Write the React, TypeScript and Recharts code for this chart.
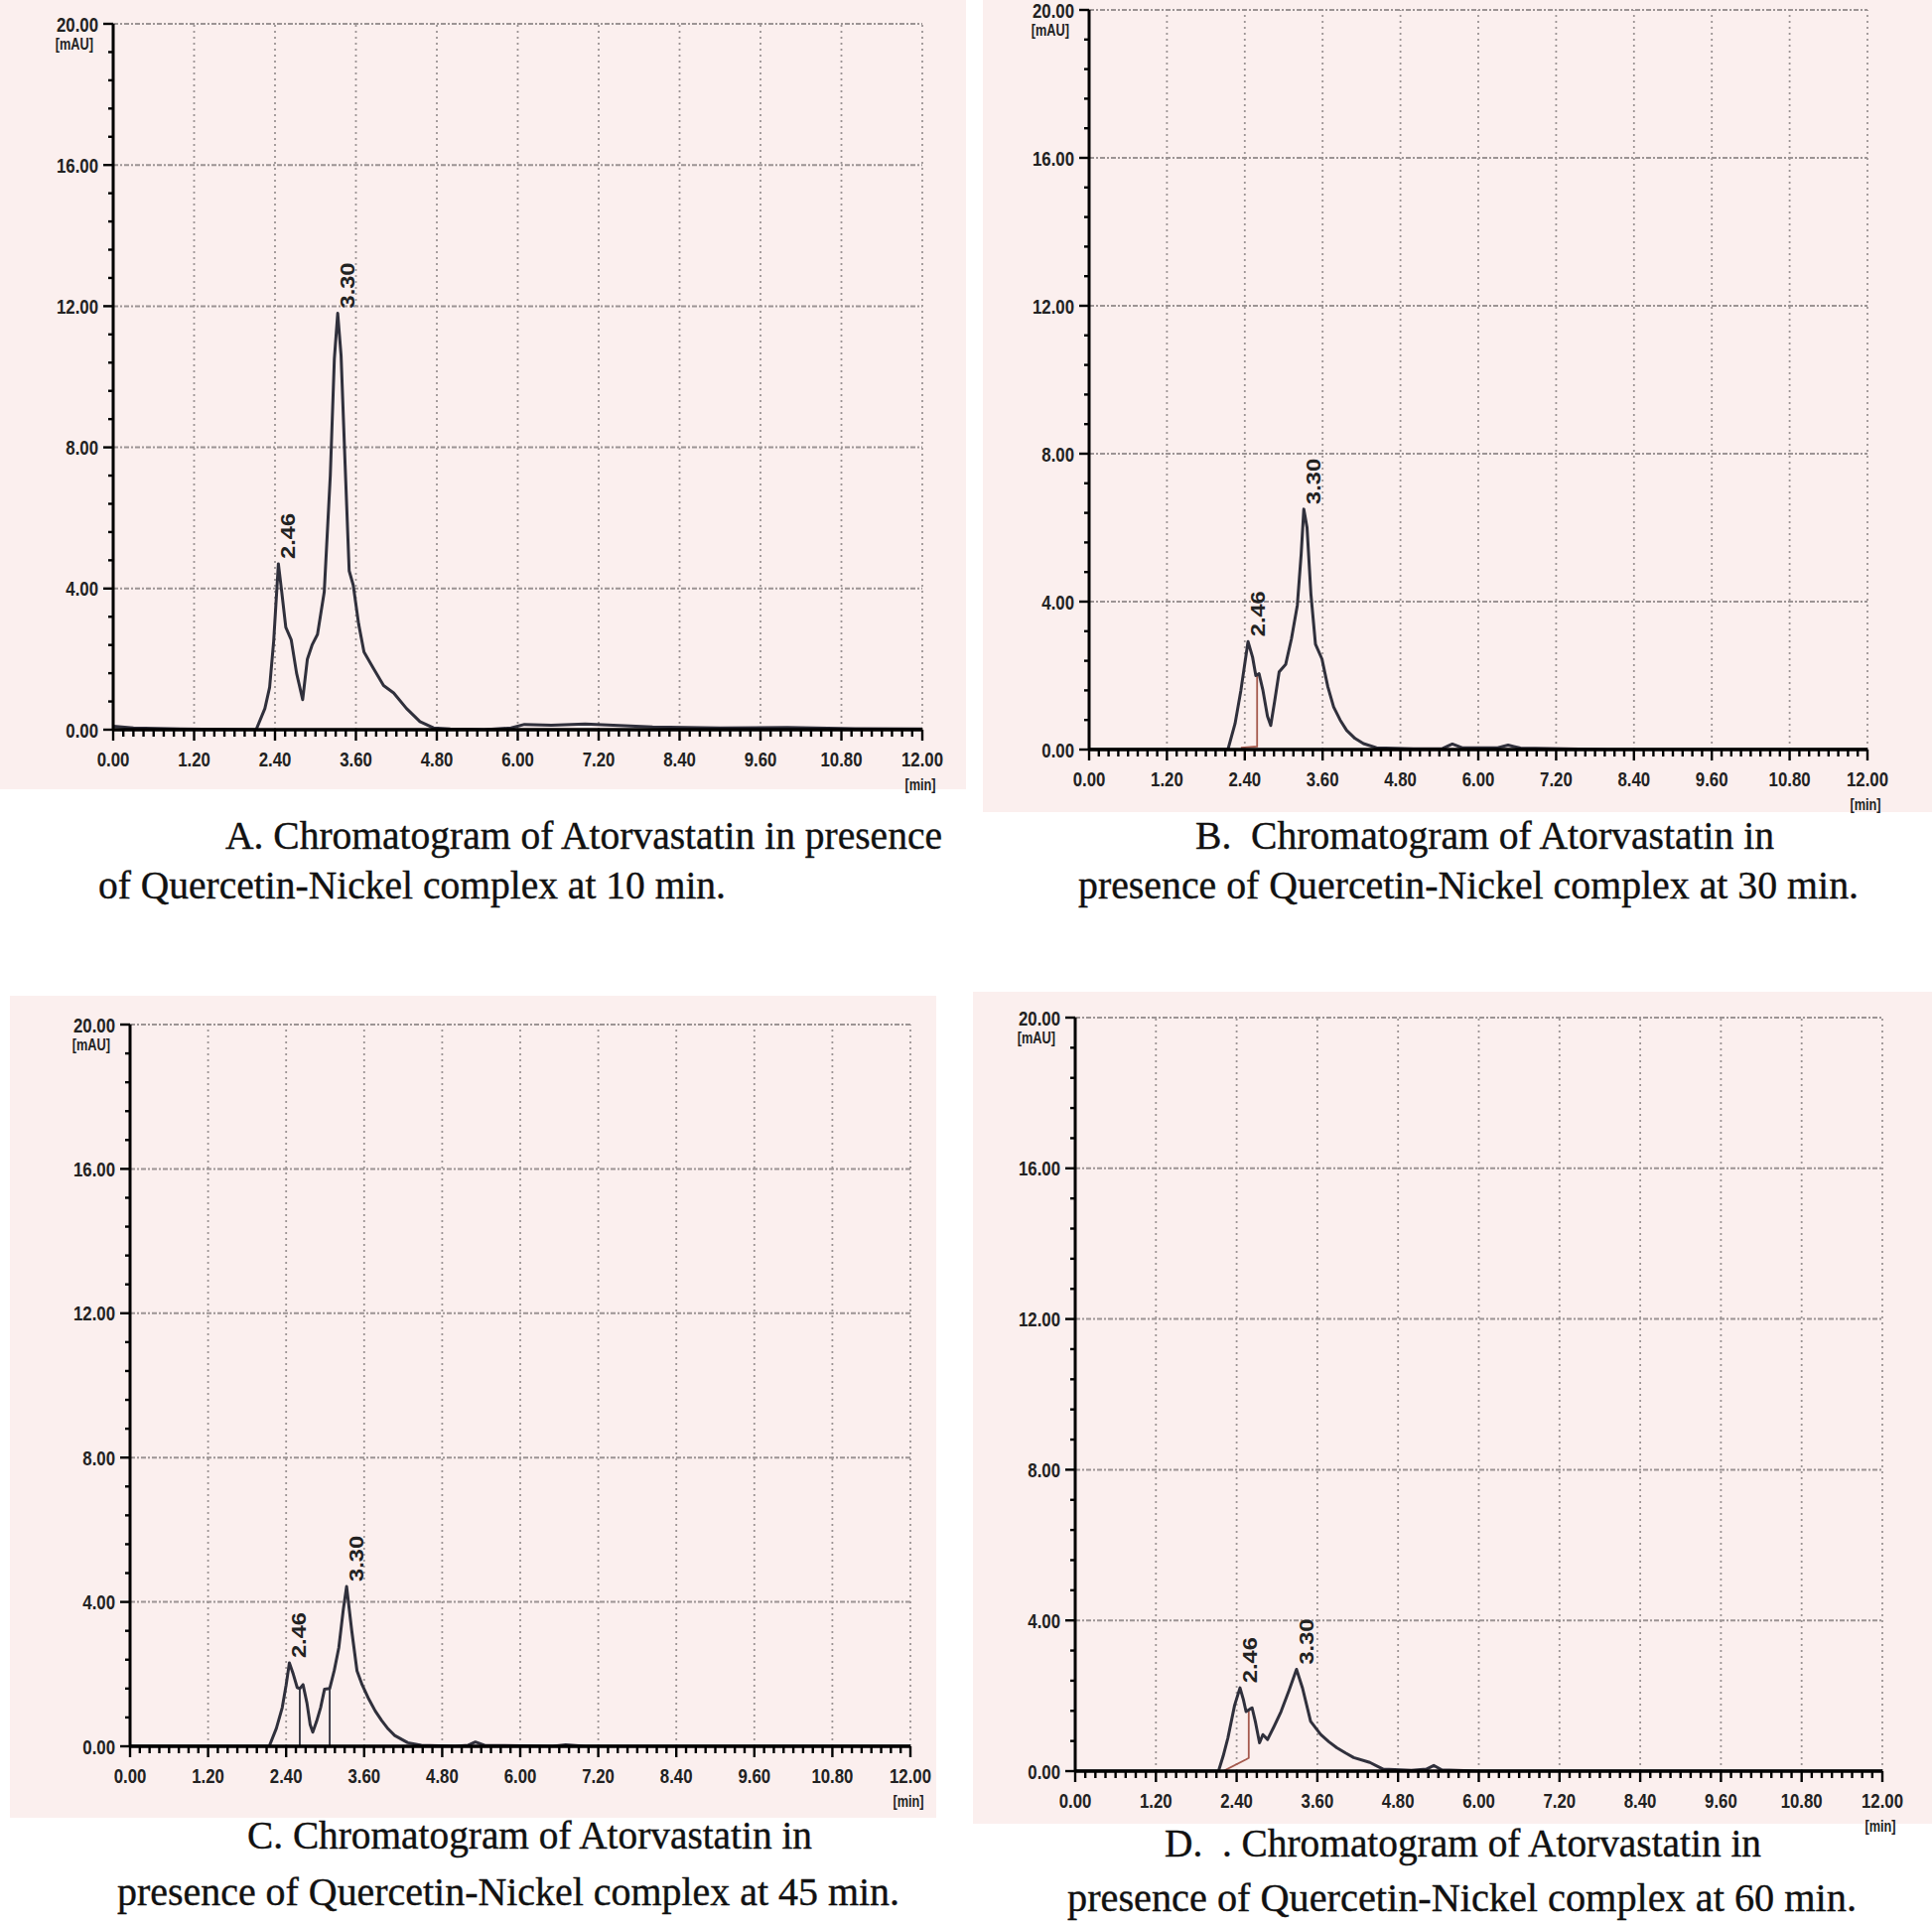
import React from "react";
import { ComposedChart, Line, XAxis, YAxis, ReferenceLine, Scatter } from "recharts";

// axis ticks (min / mAU)
const xMajor = [0, 1.2, 2.4, 3.6, 4.8, 6, 7.2, 8.4, 9.6, 10.8, 12];
const yMajor = [0, 4, 8, 12, 16, 20];
const xMinor = Array.from({ length: 81 }, (_, i) => +(i * 0.15).toFixed(2));
const yMinor = Array.from({ length: 26 }, (_, i) => +(i * 0.8).toFixed(2));

const peakNames = ["2.46", "3.30"];

// A - 10 min
const timeA = [0, 0.3, 1.0, 2.0, 2.12, 2.25, 2.32, 2.38, 2.45, 2.5, 2.56, 2.64, 2.72, 2.81, 2.88, 2.95, 3.03, 3.13, 3.22, 3.28, 3.33, 3.38, 3.44, 3.5, 3.56, 3.64, 3.72, 3.86, 4.01, 4.16, 4.35, 4.55, 4.75, 5.0, 5.5, 5.9, 6.1, 6.5, 7.0, 7.5, 8.0, 9.0, 10.0, 11.0, 12.0];
const absA = [0.1, 0.05, 0.02, 0.0, 0.0, 0.6, 1.2, 2.5, 4.7, 3.9, 2.9, 2.55, 1.6, 0.85, 2.0, 2.4, 2.7, 3.9, 7.2, 10.5, 11.8, 10.6, 7.5, 4.5, 4.1, 3.0, 2.2, 1.74, 1.25, 1.04, 0.6, 0.23, 0.05, 0.02, 0.0, 0.05, 0.15, 0.13, 0.16, 0.12, 0.08, 0.05, 0.06, 0.03, 0.02];
const peakTimeA = [2.45, 3.33];
const peakAbsA = [4.7, 11.8];

// B - 30 min
const timeB = [0, 2.14, 2.25, 2.34, 2.45, 2.52, 2.57, 2.62, 2.68, 2.75, 2.8, 2.86, 2.93, 3.03, 3.12, 3.21, 3.27, 3.31, 3.36, 3.42, 3.49, 3.59, 3.68, 3.77, 3.87, 3.97, 4.1, 4.23, 4.43, 5.0, 5.45, 5.6, 5.75, 6.3, 6.46, 6.65, 8.0, 12.0];
const absB = [0, 0, 0.7, 1.6, 2.92, 2.5, 2.0, 2.05, 1.6, 0.9, 0.65, 1.3, 2.1, 2.3, 3.0, 3.9, 5.3, 6.5, 6.0, 4.2, 2.85, 2.45, 1.7, 1.15, 0.8, 0.52, 0.3, 0.16, 0.05, 0.02, 0.03, 0.15, 0.05, 0.05, 0.12, 0.04, 0, 0];
const peakTimeB = [2.45, 3.31];
const peakAbsB = [2.92, 6.5];
const cutTimeB = [2.34, 2.59, 2.59];
const cutAbsB = [0.05, 0.08, 2.0];

// C - 45 min
const timeC = [0, 2.14, 2.25, 2.34, 2.4, 2.45, 2.51, 2.57, 2.61, 2.66, 2.72, 2.77, 2.81, 2.87, 2.93, 2.99, 3.07, 3.14, 3.21, 3.28, 3.33, 3.41, 3.49, 3.57, 3.66, 3.77, 3.87, 3.97, 4.07, 4.27, 4.48, 5.0, 5.2, 5.31, 5.45, 6.5, 6.7, 7.0, 12.0];
const absC = [0, 0, 0.5, 1.07, 1.7, 2.31, 2.0, 1.63, 1.6, 1.71, 1.2, 0.6, 0.39, 0.7, 1.07, 1.58, 1.6, 2.1, 2.73, 3.8, 4.43, 3.19, 2.09, 1.7, 1.35, 0.98, 0.71, 0.48, 0.3, 0.1, 0.03, 0, 0.03, 0.12, 0.03, 0, 0.04, 0, 0];
const peakTimeC = [2.45, 3.33];
const peakAbsC = [2.31, 4.43];
const cut1TimeC = [2.61, 2.61];
const cut1AbsC = [0, 1.62];
const cut2TimeC = [3.07, 3.07];
const cut2AbsC = [0, 1.6];

// D - 60 min
const timeD = [0, 2.13, 2.2, 2.27, 2.37, 2.45, 2.5, 2.54, 2.6, 2.63, 2.68, 2.74, 2.79, 2.86, 2.96, 3.06, 3.18, 3.29, 3.38, 3.5, 3.65, 3.77, 3.89, 4.02, 4.14, 4.38, 4.58, 5.0, 5.22, 5.33, 5.45, 6.0, 12.0];
const absD = [0, 0, 0.4, 0.88, 1.75, 2.21, 1.9, 1.58, 1.65, 1.68, 1.3, 0.75, 0.97, 0.84, 1.2, 1.58, 2.15, 2.7, 2.2, 1.32, 0.97, 0.78, 0.62, 0.48, 0.36, 0.23, 0.05, 0.02, 0.05, 0.15, 0.03, 0, 0];
const peakTimeD = [2.45, 3.29];
const peakAbsD = [2.21, 2.7];
const cutTimeD = [2.2, 2.54, 2.58, 2.58];
const cutAbsD = [0, 0.31, 0.35, 1.6];

const TRACE = "#30303c";
const CUT = "#a55a4e";
const PINK = "#fbefee";
const GRID = "#9c9494";
const SANS = "Liberation Sans, Arial, sans-serif";

const zip = (t: number[], v: number[]) => t.map((x, i) => ({ t: x, v: v[i] }));
const isMult = (v: number, step: number) => Math.abs(v / step - Math.round(v / step)) < 1e-6;

function XTick(props: any) {
  const { x, y, payload } = props;
  const v = payload.value;
  const major = isMult(v, 1.2);
  return (
    <g>
      <line x1={x} x2={x} y1={y} y2={y + (major ? 11 : 7)} stroke="#000" strokeWidth={2.4} />
      {major && (
        <text transform={`translate(${x},${y + 37}) scale(0.8,1)`} textAnchor="middle" fontSize={21}
          fontWeight="bold" fontFamily={SANS} fill="#222">
          {v.toFixed(2)}
        </text>
      )}
      {major && v === 12 && (
        <text transform={`translate(${x - 2},${y + 61}) scale(0.75,1)`} textAnchor="middle" fontSize={17}
          fontWeight="bold" fontFamily={SANS} fill="#222">
          [min]
        </text>
      )}
    </g>
  );
}

function YTick(props: any) {
  const { x, y, payload } = props;
  const v = payload.value;
  const major = isMult(v, 4);
  return (
    <g>
      <line x1={x} x2={x - (major ? 10 : 5)} y1={y} y2={y} stroke="#000" strokeWidth={2.4} />
      {major && (
        <text transform={`translate(${x - 15},${y + 7.5}) scale(0.8,1)`} textAnchor="end" fontSize={21}
          fontWeight="bold" fontFamily={SANS} fill="#222">
          {v.toFixed(2)}
        </text>
      )}
      {major && v === 20 && (
        <text transform={`translate(${x - 20},${y + 26}) scale(0.75,1)`} textAnchor="end" fontSize={17}
          fontWeight="bold" fontFamily={SANS} fill="#222">
          [mAU]
        </text>
      )}
    </g>
  );
}

function PeakText(props: any) {
  const { cx, cy, payload } = props;
  return (
    <text transform={`translate(${cx + 17},${cy - 5}) rotate(-90)`} textAnchor="start" fontSize={20}
      textLength={46} lengthAdjust="spacingAndGlyphs" fontWeight="bold" fontFamily={SANS} fill="#222">
      {payload.label}
    </text>
  );
}

type Cut = { t: number[]; v: number[]; color: string };
type PanelProps = {
  plot: [number, number, number, number];
  time: number[];
  abs: number[];
  peakT: number[];
  peakV: number[];
  cuts: Cut[];
};

function Panel({ plot, time, abs, peakT, peakV, cuts }: PanelProps) {
  const [L, T, R, B] = plot;
  const w = R - L + 150;
  const h = B - T + 120;
  const peaks = peakT.map((t, i) => ({ t, v: peakV[i], label: peakNames[i] }));
  return (
    <div style={{ position: "absolute", left: L - 100, top: T - 40, width: w, height: h }}>
      <ComposedChart width={w} height={h} margin={{ top: 40, right: 50, bottom: 0, left: 0 }}>
        <XAxis dataKey="t" type="number" domain={[0, 12]} ticks={xMinor} interval={0} allowDataOverflow
          height={80} tickSize={0} tickMargin={0} tickLine={false} tick={<XTick />}
          axisLine={{ stroke: "#000", strokeWidth: 3.5 }} />
        <YAxis type="number" domain={[0, 20]} ticks={yMinor} interval={0} allowDataOverflow
          width={100} tickSize={0} tickMargin={0} tickLine={false} tick={<YTick />}
          axisLine={{ stroke: "#000", strokeWidth: 3 }} />
        {xMajor.slice(1).map((x) => (
          <ReferenceLine key={"gx" + x} x={x} stroke={GRID} strokeWidth={1.8} strokeDasharray="2 4" />
        ))}
        {yMajor.slice(1).map((y) => (
          <ReferenceLine key={"gy" + y} y={y} stroke={GRID} strokeWidth={2} strokeDasharray="5 2 2 2" />
        ))}
        {cuts.map((c, i) => (
          <Line key={"c" + i} data={zip(c.t, c.v)} dataKey="v" type="linear" stroke={c.color}
            strokeWidth={1.8} dot={false} isAnimationActive={false} />
        ))}
        <Line data={zip(time, abs)} dataKey="v" type="linear" stroke={TRACE} strokeWidth={3}
          dot={false} isAnimationActive={false} strokeLinejoin="round" />
        <Scatter data={peaks} dataKey="v" shape={<PeakText />} isAnimationActive={false} />
      </ComposedChart>
    </div>
  );
}

const captions = [
  { text: "A. Chromatogram of Atorvastatin in presence", x: 227, y: 855, len: 722 },
  { text: "of Quercetin-Nickel complex at 10 min.", x: 99, y: 905, len: 632 },
  { text: "B.  Chromatogram of Atorvastatin in", x: 1204, y: 855, len: 583 },
  { text: "presence of Quercetin-Nickel complex at 30 min.", x: 1086, y: 905, len: 786 },
  { text: "C. Chromatogram of Atorvastatin in", x: 249, y: 1862, len: 569 },
  { text: "presence of Quercetin-Nickel complex at 45 min.", x: 118, y: 1919, len: 788 },
  { text: "D.  . Chromatogram of Atorvastatin in", x: 1173, y: 1870, len: 601 },
  { text: "presence of Quercetin-Nickel complex at 60 min.", x: 1075, y: 1925, len: 795 },
];

export default function App() {
  return (
    <div style={{ position: "absolute", left: 0, top: 0, width: 1946, height: 1939, background: "#fff" }}>
      <svg width={1946} height={1939} style={{ position: "absolute", left: 0, top: 0 }}>
        <rect x={0} y={0} width={973} height={795} fill={PINK} />
        <rect x={990} y={0} width={956} height={818} fill={PINK} />
        <rect x={10} y={1003} width={933} height={828} fill={PINK} />
        <rect x={980} y={999} width={966} height={838} fill={PINK} />
        {captions.map((c) => (
          <text key={c.text} x={c.x} y={c.y} fontSize={41} textLength={c.len} lengthAdjust="spacingAndGlyphs"
            fontFamily="Liberation Serif, Times New Roman, serif" fill="#111" stroke="#111" strokeWidth={0.4}
            style={{ whiteSpace: "pre" }}>
            {c.text}
          </text>
        ))}
      </svg>
      <Panel plot={[114, 24, 929, 735]} time={timeA} abs={absA} peakT={peakTimeA} peakV={peakAbsA} cuts={[]} />
      <Panel plot={[1097, 10, 1881, 755]} time={timeB} abs={absB} peakT={peakTimeB} peakV={peakAbsB}
        cuts={[{ t: cutTimeB, v: cutAbsB, color: CUT }]} />
      <Panel plot={[131, 1032, 917, 1759]} time={timeC} abs={absC} peakT={peakTimeC} peakV={peakAbsC}
        cuts={[{ t: cut1TimeC, v: cut1AbsC, color: TRACE }, { t: cut2TimeC, v: cut2AbsC, color: TRACE }]} />
      <Panel plot={[1083, 1025, 1896, 1784]} time={timeD} abs={absD} peakT={peakTimeD} peakV={peakAbsD}
        cuts={[{ t: cutTimeD, v: cutAbsD, color: CUT }]} />
    </div>
  );
}
